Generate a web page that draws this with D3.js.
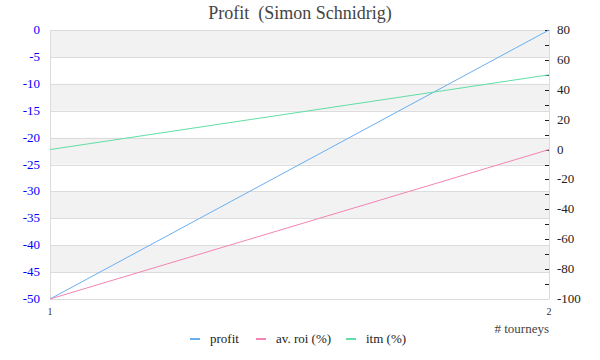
<!DOCTYPE html>
<html><head><meta charset="utf-8">
<script src="https://cdn.jsdelivr.net/npm/d3@7"></script>
<style>body{margin:0;background:#fff}svg{display:block}</style>
</head><body>
<svg id="c" width="600" height="360"></svg>
<script>
const tourneys = [1, 2];
const profit = [-50, 0];
const avRoi = [-100, 0];
const itm = [0, 50];
const leftTicks = [0, -5, -10, -15, -20, -25, -30, -35, -40, -45, -50];
const rightTicks = [80, 60, 40, 20, 0, -20, -40, -60, -80, -100];
const seriesNames = ["profit", "av. roi (%)", "itm (%)"];
const seriesColors = ["#6aaef2", "#f285b5", "#60dfa4"];

const svg = d3.select("#c");
const L = 50, R = 549, T = 30, B = 299;
const font = "'Liberation Serif', 'DejaVu Serif', serif";

const x = d3.scaleLinear().domain([1, 2]).range([L, R]);
const yL = d3.scaleLinear().domain([-50, 0]).range([B, T]);
const yR = d3.scaleLinear().domain([-100, 80]).range([B, T]);

// bands
for (let i = 0; i < leftTicks.length - 1; i++) {
  if (i % 2 === 0) {
    svg.append("rect").attr("x", L).attr("width", R - L)
      .attr("y", yL(leftTicks[i])).attr("height", yL(leftTicks[i + 1]) - yL(leftTicks[i]))
      .attr("fill", "#f2f2f2");
  }
}
// gridlines
svg.append("g").selectAll("line").data(leftTicks).join("line")
  .attr("x1", L).attr("x2", R)
  .attr("y1", d => Math.round(yL(d)) + 0.5).attr("y2", d => Math.round(yL(d)) + 0.5)
  .attr("stroke", "#dcdcdc").attr("stroke-width", 1);
svg.append("line").attr("x1", L + 0.5).attr("x2", L + 0.5).attr("y1", T).attr("y2", B + 0.5).attr("stroke", "#dcdcdc");
svg.append("line").attr("x1", R + 0.5).attr("x2", R + 0.5).attr("y1", T).attr("y2", B + 0.5).attr("stroke", "#dcdcdc");

// left tick labels
svg.append("g").selectAll("text").data(leftTicks).join("text")
  .attr("x", 40).attr("y", d => yL(d) + 4).attr("text-anchor", "end")
  .attr("font-family", font).attr("font-size", 13).attr("fill", "#0000ff")
  .text(d => d);

// right axis ticks
svg.append("g").selectAll("line").data(d3.range(-90, 81, 10)).join("line")
  .attr("x1", R - 4).attr("x2", R)
  .attr("y1", d => Math.round(yR(d)) + 0.5).attr("y2", d => Math.round(yR(d)) + 0.5)
  .attr("stroke", "#222").attr("stroke-width", 1);
svg.append("g").selectAll("text").data(rightTicks).join("text")
  .attr("x", 557).attr("y", d => yR(d) + 4).attr("text-anchor", "start")
  .attr("font-family", font).attr("font-size", 13).attr("fill", "#222")
  .text(d => d);

// x tick labels
svg.append("g").selectAll("text").data(tourneys).join("text")
  .attr("x", d => x(d)).attr("y", 315).attr("text-anchor", "middle")
  .attr("font-family", font).attr("font-size", 10).attr("fill", "#333")
  .text(d => d);
svg.append("text").attr("x", 549).attr("y", 333).attr("text-anchor", "end")
  .attr("font-family", font).attr("font-size", 13).attr("fill", "#444").text("# tourneys");

// lines
const data = [profit.map((v, i) => [tourneys[i], yL(v)]),
              avRoi.map((v, i) => [tourneys[i], yR(v)]),
              itm.map((v, i) => [tourneys[i], yR(v)])];
const line = d3.line().x(d => x(d[0])).y(d => d[1]);
data.forEach((d, i) => {
  svg.append("path").attr("d", line(d)).attr("fill", "none")
    .attr("stroke", seriesColors[i]).attr("stroke-width", 1);
});

// title
svg.append("text").attr("x", 300).attr("y", 19).attr("text-anchor", "middle")
  .attr("font-family", font).attr("font-size", 18).attr("fill", "#444")
  .style("white-space", "pre")
  .text("Profit  (Simon Schnidrig)");

// legend
const legX = [190, 256, 346];
seriesNames.forEach((n, i) => {
  svg.append("line").attr("x1", legX[i]).attr("x2", legX[i] + 10)
    .attr("y1", 339).attr("y2", 339).attr("stroke", seriesColors[i]).attr("stroke-width", 2);
  svg.append("text").attr("x", legX[i] + 20).attr("y", 343)
    .attr("font-family", font).attr("font-size", 13).attr("fill", "#222").text(n);
});
</script>
</body></html>
